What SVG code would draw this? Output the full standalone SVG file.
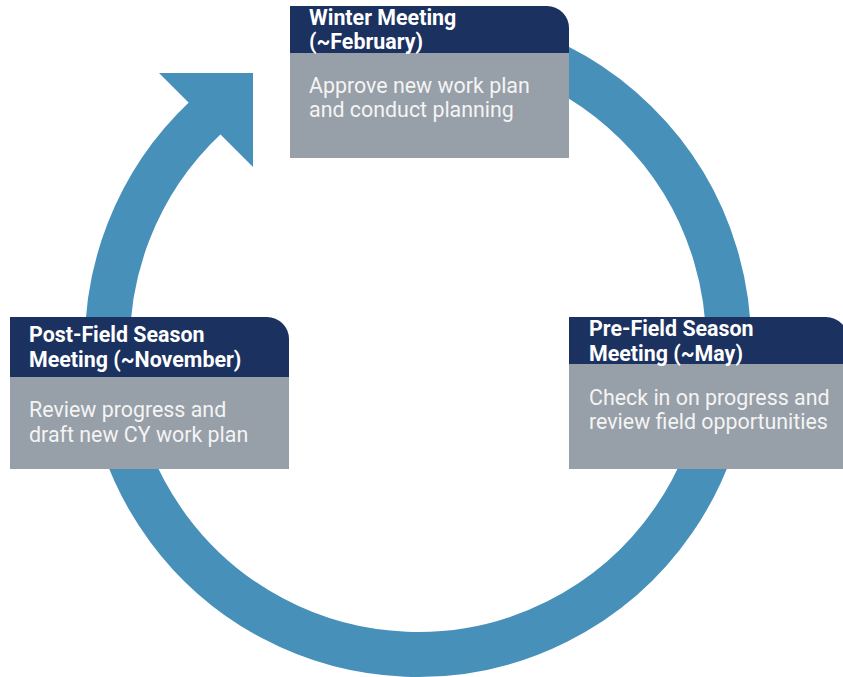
<svg xmlns="http://www.w3.org/2000/svg" width="843" height="677" viewBox="0 0 843 677">
<style>
.ring{fill:none;stroke:#4690ba;stroke-width:45}
.head{fill:#4690ba}
.hdr{fill:#1b3160}
.body{fill:#979fa8}
.t1{font-family:Roboto,"Liberation Sans",sans-serif;font-weight:bold;font-size:21.4px;fill:#ffffff}
.t2{font-family:Roboto,"Liberation Sans",sans-serif;font-size:21.4px;fill:#f4f4f4}
</style>
<rect width="843" height="677" fill="#ffffff"/>
<g id="connectors">
<path class="ring" d="M 364.1 38.2 A 310.5 310.5 0 1 1 205.5 117.6"/>
<polygon class="head" points="159,73 253,73 253,167"/>
</g>
<g id="winter">
<path class="hdr" d="M290 6 H547 A22 22 0 0 1 569 28 V53 H290 Z"/>
<rect class="body" x="290" y="53" width="279" height="105"/>
<text class="t1" x="309" y="25">Winter Meeting</text>
<text class="t1" x="309" y="49">(~February)</text>
<text class="t2" x="309" y="93">Approve new work plan</text>
<text class="t2" x="309" y="117">and conduct planning</text>
</g>
<g id="postfield">
<path class="hdr" d="M10 317 H267 A22 22 0 0 1 289 339 V377 H10 Z"/>
<rect class="body" x="10" y="377" width="279" height="92"/>
<text class="t1" x="29" y="342">Post-Field Season</text>
<text class="t1" x="29" y="367">Meeting (~November)</text>
<text class="t2" x="29" y="417">Review progress and</text>
<text class="t2" x="29" y="442">draft new CY work plan</text>
</g>
<g id="prefield">
<path class="hdr" d="M569 317 H826 A22 22 0 0 1 848 339 V364 H569 Z"/>
<rect class="body" x="569" y="364" width="279" height="105"/>
<text class="t1" x="589" y="336">Pre-Field Season</text>
<text class="t1" x="589" y="361">Meeting (~May)</text>
<text class="t2" x="589" y="405">Check in on progress and</text>
<text class="t2" x="589" y="429">review field opportunities</text>
</g>
</svg>
